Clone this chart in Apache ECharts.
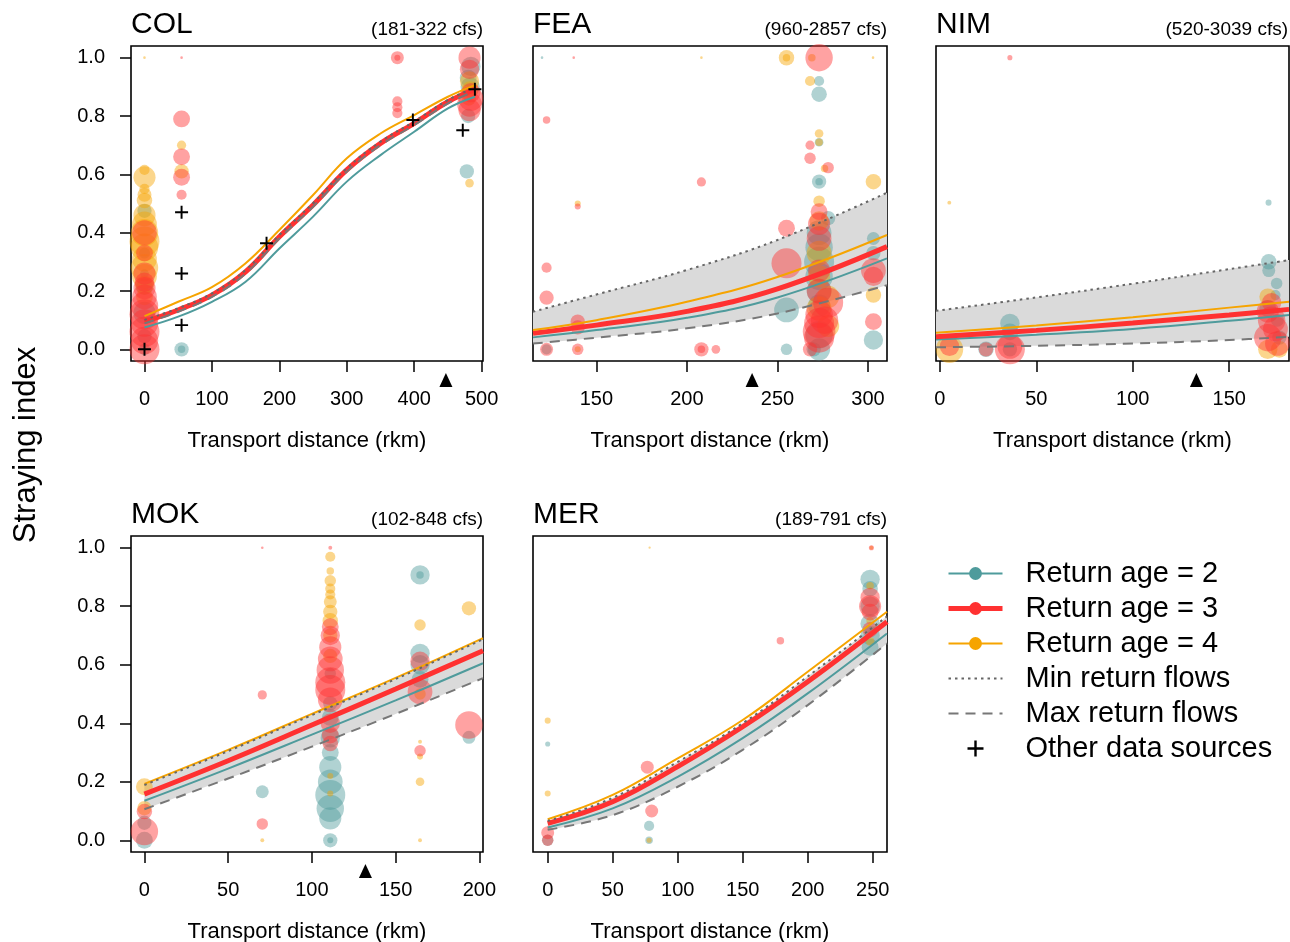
<!DOCTYPE html>
<html>
<head>
<meta charset="utf-8">
<script src="https://cdn.jsdelivr.net/npm/echarts@6/dist/echarts.min.js"></script>
<style>html,body{margin:0;padding:0;background:#fff}#chart{width:1290px;height:942px}</style>
</head>
<body>
<div id="chart"></div>
<script>
// ---------------- DATA ----------------
const panelNames = ['COL', 'FEA', 'NIM', 'MOK', 'MER'];
const flowRanges = ['(181-322 cfs)', '(960-2857 cfs)', '(520-3039 cfs)', '(102-848 cfs)', '(189-791 cfs)'];
const yTickValues = [0, 0.2, 0.4, 0.6, 0.8, 1.0];
const colTicks = [0, 100, 200, 300, 400, 500];
const feaTicks = [150, 200, 250, 300];
const nimTicks = [0, 50, 100, 150];
const mokTicks = [0, 50, 100, 150, 200];
const merTicks = [0, 50, 100, 150, 200, 250];
const transportMarkers = [447, 236, 133, 132, null];

// fitted curves (transport distance -> straying index)
const colX = [0, 50, 100, 150, 200, 250, 300, 350, 400, 450, 490];
const colAge2 = [0.075, 0.112, 0.163, 0.232, 0.346, 0.455, 0.575, 0.666, 0.746, 0.826, 0.866];
const colAge3 = [0.095, 0.135, 0.186, 0.266, 0.386, 0.495, 0.615, 0.706, 0.775, 0.849, 0.891];
const colAge4 = [0.114, 0.163, 0.213, 0.295, 0.409, 0.529, 0.655, 0.740, 0.803, 0.866, 0.906];
const colMinFlow = [0.101, 0.141, 0.192, 0.272, 0.392, 0.501, 0.621, 0.712, 0.781, 0.855, 0.897];
const colMaxFlow = [0.089, 0.129, 0.180, 0.260, 0.380, 0.489, 0.609, 0.700, 0.769, 0.843, 0.885];

const feaX = [115, 150, 200, 250, 310.5];
const feaAge2 = [0.041, 0.066, 0.108, 0.178, 0.312];
const feaAge3 = [0.055, 0.083, 0.130, 0.207, 0.352];
const feaAge4 = [0.066, 0.100, 0.163, 0.248, 0.392];
const feaMinFlow = [0.129, 0.188, 0.272, 0.375, 0.537];
const feaMaxFlow = [0.020, 0.040, 0.072, 0.123, 0.220];

const nimX = [-2, 50, 100, 150, 181];
const nimAge2 = [0.034, 0.050, 0.070, 0.098, 0.118];
const nimAge3 = [0.043, 0.065, 0.090, 0.118, 0.137];
const nimAge4 = [0.057, 0.082, 0.110, 0.143, 0.163];
const nimMinFlow = [0.132, 0.178, 0.225, 0.275, 0.306];
const nimMaxFlow = [0.007, 0.012, 0.020, 0.032, 0.043];

const mokX = [0, 50, 100, 150, 202.2];
const mokAge2 = [0.135, 0.245, 0.361, 0.478, 0.605];
const mokAge3 = [0.158, 0.272, 0.394, 0.517, 0.648];
const mokAge4 = [0.193, 0.309, 0.432, 0.555, 0.691];
const mokMinFlow = [0.189, 0.305, 0.428, 0.551, 0.687];
const mokMaxFlow = [0.106, 0.211, 0.320, 0.432, 0.554];

const merX = [0, 50, 100, 150, 200, 261];
const merAge2 = [0.044, 0.109, 0.217, 0.349, 0.502, 0.707];
const merAge3 = [0.058, 0.132, 0.252, 0.388, 0.542, 0.747];
const merAge4 = [0.072, 0.155, 0.280, 0.411, 0.576, 0.781];
const merMinFlow = [0.066, 0.145, 0.268, 0.400, 0.560, 0.765];
const merMaxFlow = [0.036, 0.086, 0.183, 0.309, 0.462, 0.673];

// observed points: [distance, straying index, number of fish]
const colPts2 = [[0,0.475,21],[0,0.215,30],[0,0.125,53],[0,0.045,21],[0,0.26,7],[0,0.0,13],[0,0.33,12],[55,0.0,21],[55,0.0,5],
  [480,0.93,30],[483,0.90,40],[480,0.80,21],[478,0.61,21],[484,0.97,40]];
const colPts3 = [[0,0.0,100],[0,0.03,83],[0,0.06,100],[0,0.09,83],[0,0.12,100],[0,0.15,83],[0,0.18,67],[0,0.21,53],
  [0,0.23,40],[0,0.26,53],[0,0.40,67],[0,0.33,30],[55,0.79,30],[55,0.66,30],[55,0.59,30],[55,0.53,10],[55,1.0,0.3],
  [375,1.0,17],[375,1.0,3],[375,0.85,10],[375,0.83,10],[375,0.81,10],
  [482,1.0,53],[482,0.96,40],[484,0.86,67],[482,0.84,67],[482,0.82,53],[484,0.88,40]];
const colPts4 = [[0,1.0,0.3],[0,0.59,53],[0,0.615,10],[0,0.55,10],[0,0.51,25],[0,0.46,53],[0,0.43,67],[0,0.40,83],
  [0,0.37,100],[0,0.35,83],[0,0.31,67],[0,0.28,83],[0,0.25,67],[0,0.22,40],[0,0.18,30],[0,0.53,20],
  [55,0.70,8],[55,0.61,21],[482,0.92,40],[483,0.89,30],[481,0.86,21],[482,0.57,7]];
const colOther = [[0,0.0],[55,0.47],[55,0.26],[55,0.083],[181,0.364],[398,0.786],[472,0.751],[490,0.892]];

const feaPts2 = [[120,1.0,0.3],[122.5,0.0,10],[255,0.135,67],[255,0.0,13],[273,0.92,10],[273,0.875,25],[273,0.71,7],
  [273,0.575,21],[273,0.575,5],[278,0.45,21],[273,0.40,67],[273,0.35,83],[273,0.30,100],[273,0.25,83],[273,0.20,67],
  [273,0.15,53],[273,0.05,83],[273,0.0,53],[303,0.38,17],[303,0.33,21],[303,0.032,40],[270,0.0,21]];
const feaPts3 = [[137.5,1.0,0.3],[122.5,0.786,5],[139.7,0.49,3],[208,0.574,8],[122.5,0.28,10],[122.5,0.177,21],
  [139.7,0.095,21],[139.7,0.075,21],[122.5,0.0,17],[139.7,0.0,13],[208,0.0,21],[208,0.0,5],[216,0.0,7],
  [255,0.295,100],[255,0.415,30],[273,1.0,83],[268,0.70,8],[268,0.655,13],[278,0.623,13],[273,0.472,30],
  [273,0.43,53],[273,0.38,67],[273,0.27,53],[273,0.2,67],[278,0.16,100],[273,0.12,83],[273,0.09,100],
  [273,0.06,119],[273,0.04,100],[268,0.0,21],[276,0.1,83],[303,0.27,67],[303,0.25,40],[303,0.095,30]];
const feaPts4 = [[208,1.0,0.3],[302.8,1.0,0.3],[139.7,0.50,3],[139.7,0.0,3],[255,1.0,25],[255,1.0,5],[268,0.92,10],
  [269,1.0,5],[273,0.74,7],[273,0.71,5],[276,0.62,5],[273,0.508,13],[273,0.44,40],[273,0.33,67],[273,0.25,53],
  [278,0.18,53],[273,0.14,67],[278,0.08,53],[303,0.575,25],[303,0.186,25]];

const nimPts2 = [[170.4,0.503,3],[36.3,0.089,40],[36.3,0.06,30],[36.3,0.0,21],[23.9,0.0,25],[170.5,0.30,25],
  [170.5,0.27,17],[174.6,0.226,13],[174,0.186,10],[175,0.1,17],[176,0.04,21],[170,0.14,30]];
const nimPts3 = [[36.3,1.0,2],[5,0.01,40],[23.9,0.0,21],[36.3,0.0,100],[36.3,0.01,67],[170,0.13,53],[172,0.10,83],
  [174,0.07,67],[170,0.04,83],[175,0.02,67],[172,0.16,40]];
const nimPts4 = [[4.9,0.503,1],[5,0.0,83],[170,0.18,30],[170,0.0,40],[176,0.0,30]];

const mokPts2 = [[0,0.06,21],[0,0.0,30],[70.4,0.166,17],[111,0.57,13],[111,0.468,21],[111,0.42,30],[111,0.30,30],
  [111,0.25,53],[111,0.2,67],[111,0.155,100],[111,0.109,83],[111,0.075,53],[111,0.0,21],[111,0.0,3],[111,0.35,40],
  [164.6,0.907,40],[164.6,0.907,5],[164.6,0.639,40],[164.6,0.60,40],[164.6,0.55,30],[193.8,0.352,17]];
const mokPts3 = [[0,0.098,25],[0,0.03,83],[70.4,1.0,0.3],[70.4,0.497,8],[70.4,0.056,13],[111,1.0,1],[111,0.73,30],
  [111,0.70,40],[111,0.66,53],[111,0.62,67],[111,0.582,83],[111,0.54,100],[111,0.514,100],[111,0.48,67],
  [111,0.40,40],[111,0.36,30],[111,0.331,25],[164.6,0.612,40],[164.6,0.508,67],[164.6,0.306,13],[193.8,0.394,83]];
const mokPts4 = [[0,0.183,30],[0,0.11,21],[70.4,0.0,1],[111,0.969,10],[111,0.92,5],[111,0.887,13],[111,0.86,10],
  [111,0.84,10],[111,0.815,17],[111,0.781,21],[111,0.75,25],[111,0.70,21],[111,0.63,21],[164.6,0.736,13],
  [164.6,0.50,13],[164.6,0.337,1],[164.6,0.286,3],[164.6,0.2,7],[164.6,0.0,1],[193.8,0.793,21],[111,0.16,3],[111,0.22,3]];

const merPts2 = [[0,0.329,2],[0,0.0,13],[78,0.049,10],[78,0.0,5],[248,0.892,40],[248,0.86,25],[248,0.80,40],
  [248,0.74,40],[248,0.70,40],[248,0.66,30]];
const merPts3 = [[0,0.026,17],[0,0.0,13],[76.6,0.25,17],[80,0.10,17],[179,0.682,5],[249,1.0,2],[248,0.83,40],
  [248,0.80,53],[248,0.78,30],[248,0.72,25]];
const merPts4 = [[78.4,1.0,0.2],[0,0.409,3],[0,0.16,3],[78,0.0,2],[249,1.0,1],[248,0.75,5],[248,0.68,7],[248,0.87,5]];

// ---------------- LAYOUT / STYLE ----------------
const FONT = '"Liberation Sans", Arial, Helvetica, sans-serif';
const TEAL = '#4f9b9c', RED = '#ff3131', ORANGE = '#f6a400';
const SMOOTH = 0.4;
const PLUS = 'path://M8.5,0H11.5V8.5H20V11.5H11.5V20H8.5V11.5H0V8.5H8.5Z';
const gridBoxes = [
  {left: 131, top: 46, width: 352, height: 315},
  {left: 533, top: 46, width: 354, height: 315},
  {left: 936, top: 46, width: 353, height: 315},
  {left: 131, top: 536, width: 352, height: 316},
  {left: 533, top: 536, width: 354, height: 316}
];
const xExtents = [[-20, 502], [115, 310.5], [-2, 181], [-8, 202.2], [-11.3, 261]];
const yExtent = [-0.04, 1.04];

const panels = [
  {x: colX, a2: colAge2, a3: colAge3, a4: colAge4, mn: colMinFlow, mx: colMaxFlow, p2: colPts2, p3: colPts3, p4: colPts4, ticks: colTicks, other: colOther},
  {x: feaX, a2: feaAge2, a3: feaAge3, a4: feaAge4, mn: feaMinFlow, mx: feaMaxFlow, p2: feaPts2, p3: feaPts3, p4: feaPts4, ticks: feaTicks},
  {x: nimX, a2: nimAge2, a3: nimAge3, a4: nimAge4, mn: nimMinFlow, mx: nimMaxFlow, p2: nimPts2, p3: nimPts3, p4: nimPts4, ticks: nimTicks},
  {x: mokX, a2: mokAge2, a3: mokAge3, a4: mokAge4, mn: mokMinFlow, mx: mokMaxFlow, p2: mokPts2, p3: mokPts3, p4: mokPts4, ticks: mokTicks},
  {x: merX, a2: merAge2, a3: merAge3, a4: merAge4, mn: merMinFlow, mx: merMaxFlow, p2: merPts2, p3: merPts3, p4: merPts4, ticks: merTicks}
];

const zip = (xs, ys) => xs.map((x, i) => [x, ys[i]]);
const bubbleSize = v => 1 + 2.9 * Math.sqrt(v[2]);

// same bezier construction as the smoothed ECharts line, so the band edges follow the dotted/dashed lines
function smoothSegs(pts, smooth) {
  const segs = [];
  let prevX = pts[0][0], prevY = pts[0][1], cpx0 = prevX, cpy0 = prevY;
  const n = pts.length;
  for (let k = 1; k < n; k++) {
    const x = pts[k][0], y = pts[k][1];
    let cpx1, cpy1, nx0, ny0;
    if (k + 1 >= n) { cpx1 = x; cpy1 = y; }
    else {
      const nextX = pts[k + 1][0], nextY = pts[k + 1][1];
      let vx = nextX - prevX, vy = nextY - prevY;
      const lenPrev = Math.hypot(x - prevX, y - prevY), lenNext = Math.hypot(nextX - x, nextY - y);
      const ratio = lenNext / (lenNext + lenPrev);
      nx0 = x + vx * smooth * ratio; ny0 = y + vy * smooth * ratio;
      nx0 = Math.max(Math.min(nx0, Math.max(nextX, x)), Math.min(nextX, x));
      ny0 = Math.max(Math.min(ny0, Math.max(nextY, y)), Math.min(nextY, y));
      vx = nx0 - x; vy = ny0 - y;
      cpx1 = x - vx * lenPrev / lenNext; cpy1 = y - vy * lenPrev / lenNext;
      cpx1 = Math.max(Math.min(cpx1, Math.max(prevX, x)), Math.min(prevX, x));
      cpy1 = Math.max(Math.min(cpy1, Math.max(prevY, y)), Math.min(prevY, y));
      vx = x - cpx1; vy = y - cpy1;
      nx0 = x + vx * lenNext / lenPrev; ny0 = y + vy * lenNext / lenPrev;
    }
    segs.push([cpx0, cpy0, cpx1, cpy1, x, y]);
    cpx0 = nx0; cpy0 = ny0; prevX = x; prevY = y;
  }
  return segs;
}

const grids = [], xAxes = [], yAxes = [], series = [], titles = [];
panels.forEach((p, i) => {
  const g = gridBoxes[i];
  const leftCol = (i === 0 || i === 3);
  grids.push(Object.assign({show: true, borderColor: '#000', borderWidth: 1.6, backgroundColor: 'transparent',
    containLabel: false, outerBoundsMode: 'none'}, g));
  xAxes.push({
    gridIndex: i, type: 'value', position: 'bottom', min: xExtents[i][0], max: xExtents[i][1],
    axisLine: {show: false, onZero: false}, splitLine: {show: false},
    axisTick: {show: true, inside: false, length: 11, lineStyle: {color: '#000', width: 1.5}, customValues: p.ticks},
    axisLabel: {show: true, inside: false, customValues: p.ticks, margin: 28, fontSize: 20, color: '#000', fontFamily: FONT},
    name: 'Transport distance (rkm)', nameLocation: 'middle', nameGap: 69,
    nameTextStyle: {fontSize: 22, color: '#000', fontFamily: FONT}
  });
  yAxes.push({
    gridIndex: i, type: 'value', position: 'left', min: yExtent[0], max: yExtent[1],
    axisLine: {show: false, onZero: false}, splitLine: {show: false},
    axisTick: {show: leftCol, inside: false, length: 11, lineStyle: {color: '#000', width: 1.5}, customValues: yTickValues},
    axisLabel: {show: leftCol, inside: false, customValues: yTickValues, formatter: v => v.toFixed(1), margin: 26,
      fontSize: 20, color: '#000', fontFamily: FONT}
  });
  titles.push({text: panelNames[i], left: g.left, top: g.top - 36, padding: 0,
    textStyle: {fontSize: 30, fontWeight: 'normal', color: '#000', fontFamily: FONT}});
  titles.push({text: flowRanges[i], right: 1290 - (g.left + g.width) + (i === 2 ? 1 : 0), top: g.top - 26, padding: 0,
    textStyle: {fontSize: 19, fontWeight: 'normal', color: '#000', fontFamily: FONT}});

  const ax = {xAxisIndex: i, yAxisIndex: i};
  // grey band between min and max return flow curves
  series.push(Object.assign({type: 'custom', name: 'band' + i, data: [0], silent: true, z: 1, clip: true,
    renderItem: (params, api) => {
      const up = p.x.map((x, k) => api.coord([x, p.mn[k]]));
      const lo = p.x.map((x, k) => api.coord([x, p.mx[k]]));
      const su = smoothSegs(up, SMOOTH), sl = smoothSegs(lo, SMOOTH);
      let d = 'M' + up[0][0] + ' ' + up[0][1];
      su.forEach(s => { d += 'C' + s.join(' '); });
      d += 'L' + lo[lo.length - 1][0] + ' ' + lo[lo.length - 1][1];
      for (let k = sl.length - 1; k >= 0; k--) {
        const s = sl[k], prev = lo[k];
        d += 'C' + [s[2], s[3], s[0], s[1], prev[0], prev[1]].join(' ');
      }
      d += 'Z';
      return {type: 'path', shape: {pathData: d}, style: {fill: '#dadada', stroke: null}};
    }}, ax));
  // fitted curves
  [[p.a2, TEAL, 2, 'Return age = 2'], [p.a3, RED, 5, 'Return age = 3'], [p.a4, ORANGE, 2, 'Return age = 4']].forEach(c => {
    series.push(Object.assign({type: 'line', name: c[3], data: zip(p.x, c[0]), smooth: SMOOTH,
      symbol: 'circle', showSymbol: false, silent: true, z: 4,
      lineStyle: {color: c[1], width: c[2]}, itemStyle: {color: c[1]}}, ax));
  });
  // min / max return flow curves (drawn over the fitted curves)
  series.push(Object.assign({type: 'line', name: 'Max return flows', data: zip(p.x, p.mx),
    smooth: SMOOTH, symbol: 'none', silent: true, z: 5,
    lineStyle: {color: '#777', width: 2, type: [10, 7]}}, ax));
  series.push(Object.assign({type: 'line', name: 'Min return flows', data: zip(p.x, p.mn),
    smooth: SMOOTH, symbol: 'none', silent: true, z: 5,
    lineStyle: {color: '#666', width: 2, type: [2.5, 4]}}, ax));
  // observed points
  [[p.p2, TEAL, 'Return age = 2'], [p.p4, ORANGE, 'Return age = 4'], [p.p3, RED, 'Return age = 3']].forEach(c => {
    series.push(Object.assign({type: 'scatter', name: c[2], data: c[0], symbol: 'circle', symbolSize: bubbleSize,
      silent: true, z: 3, itemStyle: {color: c[1], opacity: 0.45}}, ax));
  });
  if (p.other) {
    series.push(Object.assign({type: 'scatter', name: 'Other data sources', data: p.other, symbol: PLUS,
      symbolSize: 13, silent: true, z: 6, itemStyle: {color: '#000', opacity: 1}}, ax));
  }
  if (transportMarkers[i] != null) {
    series.push(Object.assign({type: 'custom', name: 'marker' + i, data: [transportMarkers[i]], clip: false, silent: true, z: 6,
      renderItem: (params, api) => {
        const pt = api.coord([api.value(0), 0]);
        const cs = params.coordSys;
        const b = cs.y + cs.height;
        return {type: 'polygon', shape: {points: [[pt[0], b + 12], [pt[0] - 6.5, b + 26], [pt[0] + 6.5, b + 26]]},
          style: {fill: '#000'}};
      }}, ax));
  }
});

const chart = echarts.init(document.getElementById('chart'), null, {renderer: 'canvas'});
chart.setOption({
  animation: false,
  backgroundColor: '#fff',
  title: titles,
  grid: grids,
  xAxis: xAxes,
  yAxis: yAxes,
  legend: {
    orient: 'vertical', left: 946, top: 556, padding: 0, itemWidth: 54, itemHeight: 16, itemGap: 0,
    selectedMode: false,
    data: [
      {name: 'Return age = 2'}, {name: 'Return age = 3'}, {name: 'Return age = 4'},
      {name: 'Min return flows', itemStyle: {opacity: 0}},
      {name: 'Max return flows', itemStyle: {opacity: 0}},
      {name: 'Other data sources', icon: PLUS}
    ],
    lineStyle: {width: 'inherit'},
    textStyle: {fontSize: 29, color: '#000', fontFamily: FONT, lineHeight: 35, padding: [0, 0, 0, 18]}
  },
  graphic: [{
    type: 'text', x: 26, y: 445, rotation: Math.PI / 2,
    style: {text: 'Straying index', fontSize: 31, fontFamily: FONT, fill: '#000', align: 'center', verticalAlign: 'middle'}
  }],
  series: series
});
</script>
</body>
</html>
